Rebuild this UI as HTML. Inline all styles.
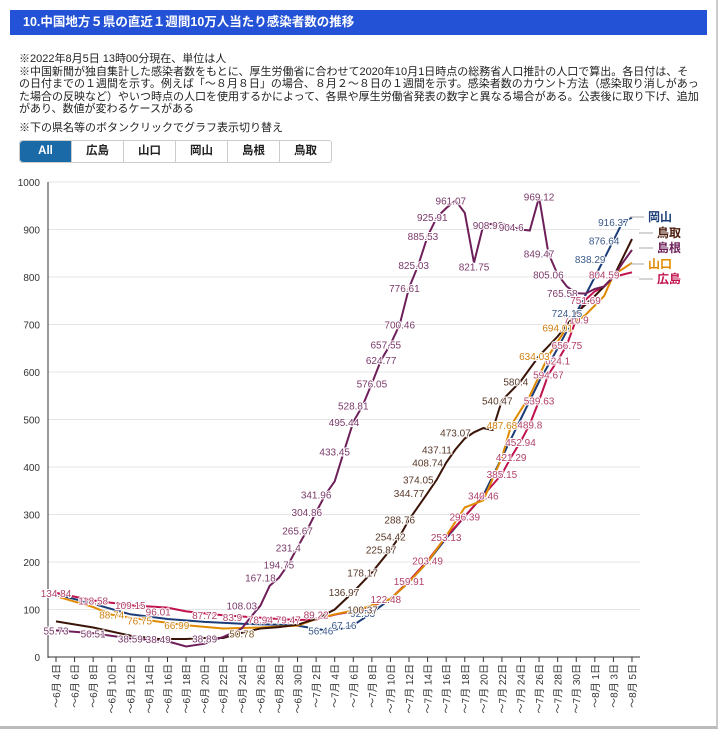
<!DOCTYPE html>
<html><head><meta charset="utf-8">
<style>
body{margin:0;background:#fff;width:720px;height:730px;overflow:hidden;font-family:"Liberation Sans","Noto Sans CJK JP",sans-serif;}
.frame{position:absolute;left:0;top:0;width:716px;height:726px;border-right:2px solid #ccc;border-bottom:3px solid #bbb;}
.hdr{position:absolute;left:10px;top:10px;width:697px;height:25px;background:#2352d6;color:#fff;font-weight:bold;font-size:12.5px;line-height:25px;padding-left:13px;box-sizing:border-box;}
.notes{position:absolute;left:19px;top:53px;width:680px;font-size:11px;line-height:12.5px;color:#222;}
.btns{position:absolute;left:19px;top:140px;display:flex;border:1px solid #ccc;border-radius:3px;}
.btns div{width:51px;height:21px;line-height:21px;text-align:center;font-size:11.5px;font-weight:bold;border-left:1px solid #ccc;color:#222;}
.btns div.on{background:#1b6aa8;color:#fff;border-left:none;border-radius:3px 0 0 3px;}
svg{position:absolute;left:0;top:0;}
</style></head><body>
<div class="frame"></div>
<div class="hdr">10.中国地方５県の直近１週間10万人当たり感染者数の推移</div>
<div class="notes">※2022年8月5日 13時00分現在、単位は人<br>※中国新聞が独自集計した感染者数をもとに、厚生労働省に合わせて2020年10月1日時点の総務省人口推計の人口で算出。各日付は、その日付までの１週間を示す。例えば「～８月８日」の場合、８月２～８日の１週間を示す。感染者数のカウント方法（感染取り消しがあった場合の反映など）やいつ時点の人口を使用するかによって、各県や厚生労働省発表の数字と異なる場合がある。公表後に取り下げ、追加があり、数値が変わるケースがある<div style="height:6px"></div>※下の県名等のボタンクリックでグラフ表示切り替え</div>
<div class="btns"><div class="on">All</div><div>広島</div><div>山口</div><div>岡山</div><div>島根</div><div>鳥取</div></div>
<svg id="c" width="720" height="730" xmlns="http://www.w3.org/2000/svg"></svg>
<script>
var s=document.getElementById('c'),h='';
function Y(v){return 657-v*0.475;}
function X(d){return 56+d*9.29;}
for(var v=0;v<=1000;v+=100){h+='<line x1="48" x2="640" y1="'+Y(v)+'" y2="'+Y(v)+'" stroke="#e4e4e4"/>';
h+='<text x="40" y="'+(Y(v)+4)+'" font-size="10" text-anchor="end" fill="#333">'+v+'</text>';}
h+='<line x1="48" x2="48" y1="182" y2="658" stroke="#333"/><line x1="48" x2="640" y1="657" y2="657" stroke="#333"/>';
var mon=['6月','7月','8月'];
for(var d=0;d<=62;d+=2){var m,dd;if(d<=26){m='6月';dd=4+d}else if(d<=57){m='7月';dd=d-26}else{m='8月';dd=d-57}
var x=X(d);h+='<line x1="'+x+'" x2="'+x+'" y1="657" y2="662" stroke="#333"/>';
h+='<text transform="translate('+(x+4)+',664) rotate(-90)" font-size="10" text-anchor="end" fill="#333">～'+m+' '+dd+'日</text>';}
var S={
shimane:['#6e1f5a',[[0,56],[4,50],[8,39],[12,33],[14,22],[16,28],[18,42],[20,60],[21,85],[22,108],[23,150],[24,167],[25,195],[26,231],[27,266],[28,305],[29,342],[30,370],[31,433],[32,495],[33,529],[34,576],[35,625],[36,658],[37,700],[38,777],[39,825],[40,886],[41,926],[42,945],[43,961],[44,935],[45,830],[46,909],[47,912],[48,912],[49,905],[50,900],[51,898],[52,968],[53,850],[54,805],[55,780],[56,766],[57,765],[58,775],[59,780],[60,800],[61,830],[62,857]]],
tottori:['#3b1408',[[0,75],[4,62],[8,45],[11,38],[14,38],[16,40],[18,40],[20,51],[22,60],[24,63],[26,68],[28,80],[30,100],[32,137],[34,178],[36,226],[37,254],[38,289],[40,345],[41,374],[42,409],[43,437],[44,460],[45,473],[46,482],[47,478],[48,540],[50,580],[52,634],[54,675],[56,724],[58,760],[60,800],[62,880]]],
okayama:['#1c3c78',[[0,132],[4,112],[8,90],[12,80],[16,74],[20,70],[24,68],[26,66],[29,56],[31,60],[32,67],[34,93],[36,122],[38,158],[40,200],[42,250],[44,296],[46,340],[48,420],[50,500],[52,580],[54,650],[56,724],[58,800],[59,838],[60,877],[61,916],[62,925]]],
yamaguchi:['#e08a00',[[0,128],[4,105],[6,89],[10,77],[14,67],[18,60],[22,62],[26,66],[28,80],[30,90],[33,102],[36,122],[38,158],[40,200],[42,255],[44,315],[46,330],[48,420],[49,488],[51,550],[53,634],[55,694],[57,720],[59,760],[60,804],[62,830]]],
hiroshima:['#c0124c',[[0,135],[4,119],[8,109],[12,104],[14,96],[18,88],[21,84],[24,80],[26,78],[28,79],[30,89],[33,100],[36,122],[38,160],[40,203],[42,253],[44,296],[46,340],[48,385],[49,421],[50,453],[51,490],[52,540],[53,595],[54,624],[55,657],[56,711],[57,752],[58,770],[59,780],[60,800],[61,805],[62,810]]]};
['okayama','hiroshima','yamaguchi','tottori','shimane'].forEach(function(k){var p=S[k][1].map(function(a){return X(a[0]).toFixed(1)+','+Y(a[1]).toFixed(1)}).join(' ');
h+='<polyline points="'+p+'" fill="none" stroke="'+S[k][0]+'" stroke-width="2"/>';});
var L=[[0,135,'134.84','#b0406a'],[4,119,'118.58','#b0406a'],[8,109,'109.15','#b0406a'],[11,96,'96.01','#b0406a'],[16,88,'87.72','#b0406a'],[19,84,'83.9','#b0406a'],[22,79,'78.94','#b0406a'],[25,79,'79.47','#b0406a'],[28,89,'89.22','#b0406a'],
[0,56,'55.73','#7a3a6a'],[4,50,'50.51','#7a3a6a'],[8,39,'38.59','#7a3a6a'],[11,38,'38.49','#7a3a6a'],[16,39,'38.89','#7a3a6a'],[20,50,'50.78','#7a5a2a'],
[6,89,'88.74','#d08010'],[9,77,'76.75','#d08010'],[13,67,'66.99','#d08010'],
[20,108,'108.03','#7a3a6a'],[22,167,'167.18','#7a3a6a'],[24,195,'194.75','#7a3a6a'],[25,231,'231.4','#7a3a6a'],[26,266,'265.67','#7a3a6a'],[27,305,'304.86','#7a3a6a'],[28,342,'341.96','#7a3a6a'],[30,433,'433.45','#7a3a6a'],[31,495,'495.44','#7a3a6a'],[32,529,'528.81','#7a3a6a'],[34,576,'576.05','#7a3a6a'],[35,625,'624.77','#7a3a6a'],[35.5,658,'657.55','#7a3a6a'],[37,700,'700.46','#7a3a6a'],[37.5,777,'776.61','#7a3a6a'],[38.5,825,'825.03','#7a3a6a'],[39.5,886,'885.53','#7a3a6a'],[40.5,926,'925.91','#7a3a6a'],[42.5,961,'961.07','#7a3a6a'],[45,822,'821.75','#7a3a6a'],[46.5,909,'908.92','#7a3a6a'],[49,905,'904.6','#7a3a6a'],[52,969,'969.12','#7a3a6a'],[52,849,'849.47','#7a3a6a'],[53,805,'805.06','#7a3a6a'],[54.5,766,'765.58','#7a3a6a'],
[31,137,'136.97','#5a3a2a'],[33,178,'178.17','#5a3a2a'],[35,226,'225.87','#5a3a2a'],[36,254,'254.42','#5a3a2a'],[37,289,'288.76','#5a3a2a'],[38,345,'344.77','#5a3a2a'],[39,374,'374.05','#5a3a2a'],[40,409,'408.74','#5a3a2a'],[41,437,'437.11','#5a3a2a'],[43,473,'473.07','#5a3a2a'],[47.5,540,'540.47','#5a3a2a'],[49.5,580,'580.4','#5a3a2a'],
[28.5,56,'56.46','#3a5a8a'],[31,67,'67.16','#3a5a8a'],[33,93,'92.53','#3a5a8a'],[35.5,122,'122.48','#b0406a'],[33,100,'100.37','#5a3a2a'],[38,160,'159.91','#b0406a'],[40,203,'203.49','#b0406a'],[42,253,'253.13','#b0406a'],[44,296,'296.39','#b0406a'],[46,340,'340.46','#b0406a'],[48,385,'385.15','#b0406a'],[49,421,'421.29','#b0406a'],[50,453,'452.94','#b0406a'],[51,490,'489.8','#b0406a'],[52,540,'539.63','#b0406a'],[53,595,'594.67','#b0406a'],[54,624,'624.1','#b0406a'],[55,657,'656.75','#b0406a'],[56,711,'710.9','#b0406a'],[57,752,'751.69','#b0406a'],[59,805,'804.59','#b0406a'],
[48,488,'487.68','#d08010'],[51.5,634,'634.03','#d08010'],[54,694,'694.01','#d08010'],[55,724,'724.15','#3a5a8a'],[57.5,838,'838.29','#3a5a8a'],[59,877,'876.64','#3a5a8a'],[60,916,'916.37','#3a5a8a']];
L.forEach(function(a){h+='<text x="'+X(a[0])+'" y="'+(Y(a[1])+4)+'" font-size="10" text-anchor="middle" fill="'+a[3]+'" stroke="#fff" stroke-width="2" paint-order="stroke">'+a[2]+'</text>';});
var G=[[221,'岡山','#1c3c78',648],[237,'鳥取','#4a1a0a',657],[252,'島根','#6e1f5a',657],[268,'山口','#e08a00',648],[283,'広島','#c0124c',657]];
G.forEach(function(g){h+='<line x1="'+(g[3]-18)+'" x2="'+(g[3]-4)+'" y1="'+(g[0]-4)+'" y2="'+(g[0]-4)+'" stroke="#aaa"/><text x="'+g[3]+'" y="'+g[0]+'" font-size="12" font-weight="bold" fill="'+g[2]+'">'+g[1]+'</text>';});
s.innerHTML=h;
</script>
</body></html>
